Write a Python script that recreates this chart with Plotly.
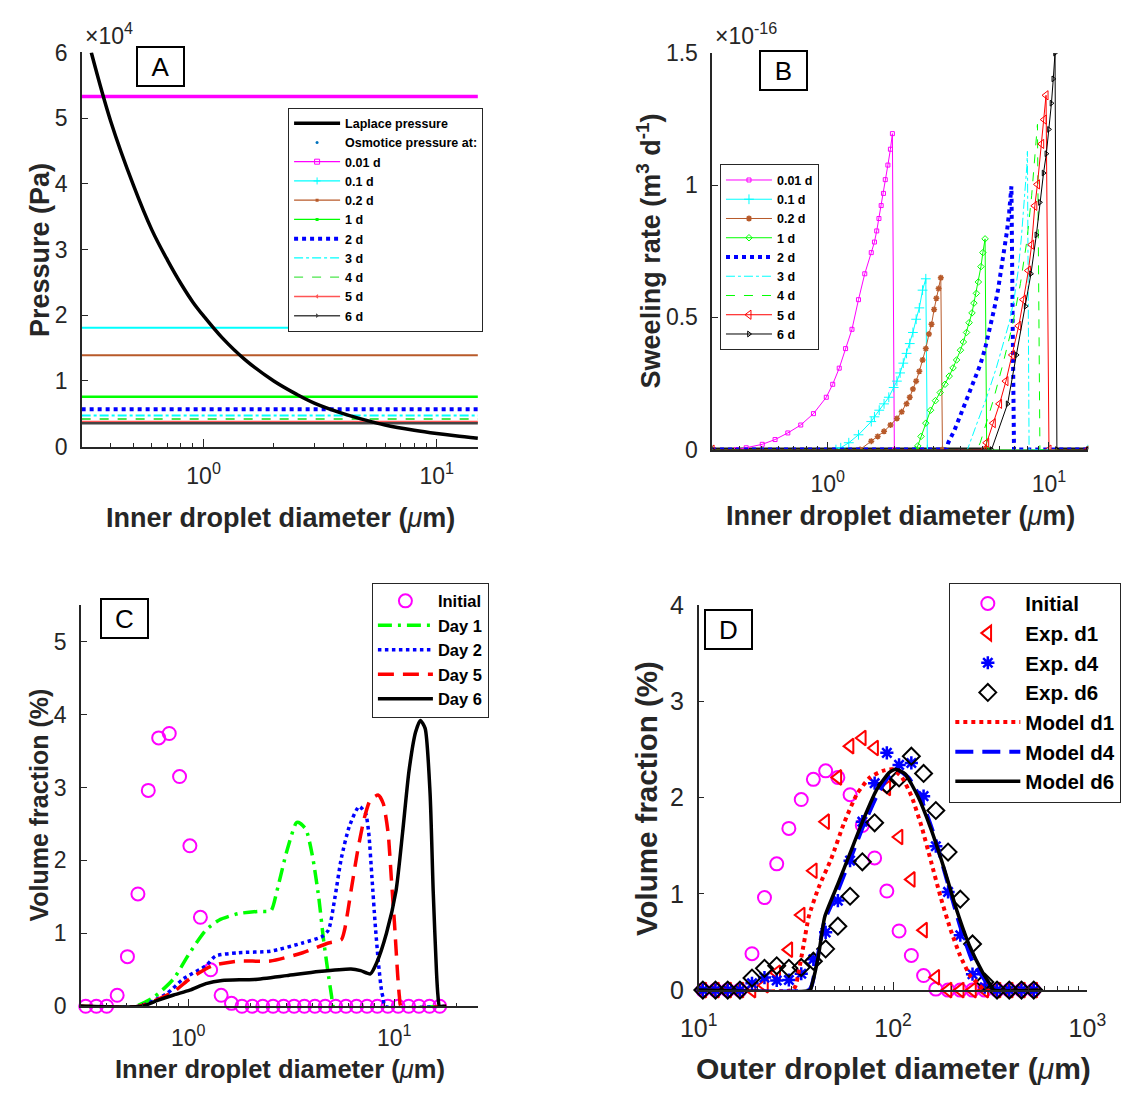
import plotly.graph_objects as go

# ---------------- Panel A data (pressure in units of 1e4 Pa) ----------------
lap_d = [0.33, 0.4, 0.5, 0.6, 0.7, 0.8, 0.9, 1.0, 1.2, 1.5, 2.0, 2.5, 3.0, 4.0, 5.0, 6.0, 8.0, 10.0, 12.0, 15.0]
lap_p = [6.0, 4.95, 3.98, 3.3, 2.84, 2.48, 2.2, 1.99, 1.66, 1.33, 1.0, 0.8, 0.66, 0.5, 0.4, 0.33, 0.25, 0.2, 0.166, 0.13]
osm_days = ['0.01 d', '0.1 d', '0.2 d', '1 d', '2 d', '3 d', '4 d', '5 d', '6 d']
osm_p = [5.33, 1.81, 1.39, 0.76, 0.57, 0.475, 0.42, 0.375, 0.355]
osm_d = [0.3, 15]

# ---------------- Panel B data (swelling rate in units of 1e-16 m3/d) ----------------
b001_x = [0.3, 0.387, 0.428, 0.506, 0.578, 0.66, 0.755, 0.862, 0.985, 1.053, 1.127, 1.204, 1.287, 1.377, 1.47, 1.573, 1.626, 1.665, 1.704, 1.744, 1.786, 1.82, 1.87, 1.92, 1.96, 2.0, 15]
b001_y = [0, 0, 0.007, 0.02, 0.038, 0.063, 0.093, 0.136, 0.198, 0.247, 0.308, 0.382, 0.455, 0.567, 0.665, 0.745, 0.785, 0.827, 0.874, 0.923, 0.969, 1.021, 1.076, 1.136, 1.195, 0, 0]
b01_x = [0.3, 1.089, 1.145, 1.245, 1.377, 1.573, 1.626, 1.709, 1.797, 1.888, 1.986, 2.054, 2.124, 2.195, 2.271, 2.348, 2.427, 2.51, 2.594, 2.683, 2.775, 2.82, 15]
b01_y = [0, 0, 0.007, 0.026, 0.056, 0.106, 0.124, 0.149, 0.173, 0.198, 0.235, 0.259, 0.29, 0.327, 0.364, 0.401, 0.443, 0.493, 0.536, 0.603, 0.646, 0, 0]
b02_x = [0.3, 1.40, 1.573, 1.682, 1.797, 1.921, 2.054, 2.16, 2.271, 2.348, 2.427, 2.51, 2.594, 2.683, 2.775, 2.868, 2.946, 3.025, 3.097, 3.17, 3.244, 3.30, 15]
b02_y = [0, 0, 0.032, 0.05, 0.069, 0.093, 0.118, 0.143, 0.173, 0.198, 0.229, 0.259, 0.296, 0.339, 0.382, 0.437, 0.474, 0.53, 0.572, 0.609, 0.65, 0, 0]
b1_x = [0.3, 2.50, 2.552, 2.64, 2.775, 2.917, 3.067, 3.225, 3.39, 3.54, 3.685, 3.823, 3.98, 4.102, 4.239, 4.355, 4.487, 4.578, 4.699, 4.795, 4.926, 5.026, 5.142, 5.23, 15]
b1_y = [0, 0, 0.014, 0.05, 0.1, 0.149, 0.185, 0.216, 0.247, 0.278, 0.309, 0.339, 0.376, 0.407, 0.443, 0.48, 0.517, 0.554, 0.591, 0.634, 0.692, 0.745, 0.797, 0, 0]
b2_x = [0.3, 3.44, 3.504, 3.747, 4.004, 4.281, 4.578, 4.891, 5.142, 5.408, 5.649, 5.882, 6.079, 6.283, 6.457, 6.607, 6.766, 6.85, 6.95, 15]
b2_y = [0, 0, 0.026, 0.075, 0.136, 0.198, 0.259, 0.321, 0.382, 0.456, 0.53, 0.603, 0.677, 0.751, 0.825, 0.898, 0.996, 0.5, 0, 0]
b3_x = [0.3, 4.28, 4.73, 5.23, 5.78, 6.18, 6.61, 6.95, 7.26, 7.5, 7.73, 7.94, 7.99, 8.13, 15]
b3_y = [0, 0, 0.1, 0.198, 0.309, 0.394, 0.48, 0.567, 0.677, 0.8, 0.935, 1.07, 1.128, 0, 0]
b4_x = [0.3, 4.73, 4.89, 5.595, 6.18, 6.83, 7.43, 7.94, 8.35, 8.63, 8.87, 9.1, 15]
b4_y = [0, 0, 0.026, 0.185, 0.321, 0.468, 0.628, 0.788, 0.96, 1.107, 1.23, 0, 0]
b5_x = [0.3, 5.1, 5.23, 5.6, 5.98, 6.39, 6.83, 7.3, 7.67, 8.07, 8.35, 8.63, 8.87, 9.27, 9.52, 9.70, 10.0, 15]
b5_y = [0, 0, 0.026, 0.1, 0.173, 0.259, 0.358, 0.468, 0.567, 0.677, 0.775, 0.922, 1.003, 1.156, 1.248, 1.34, 0, 0]
b6_x = [0.3, 5.5, 6.5, 7.14, 7.84, 8.29, 8.77, 9.1, 9.45, 9.73, 10.0, 10.26, 10.46, 10.65, 10.86, 15]
b6_y = [0, 0, 0.173, 0.358, 0.542, 0.665, 0.812, 0.935, 1.046, 1.119, 1.211, 1.31, 1.402, 1.50, 0, 0]
# dense marker band along zero where every series is zero
b_base_x = [0.3, 5.5, None, 10.86, 15]
b_base_y = [0, 0, None, 0, 0]

# ---------------- Panel C data ----------------
c_init_x = [0.318, 0.358, 0.402, 0.452, 0.507, 0.570, 0.640, 0.719, 0.809, 0.908, 1.019, 1.146, 1.285, 1.445,
            1.622, 1.824, 2.046, 2.301, 2.582, 2.904, 3.266, 3.664, 4.121, 4.624, 5.200, 5.834, 6.561, 7.379,
            8.279, 9.311, 10.45, 11.75, 13.18, 14.83, 16.63]
c_init_y = [0, 0, 0, 0.15, 0.68, 1.54, 2.96, 3.68, 3.74, 3.15, 2.20, 1.22, 0.50, 0.15, 0.04,
            0, 0, 0, 0, 0, 0, 0, 0, 0, 0, 0, 0, 0, 0, 0, 0, 0, 0, 0, 0]
day1_x = [0.3, 0.552, 0.685, 0.85, 1.018, 1.219, 1.409, 1.749, 2.17, 2.52, 2.695, 3.002, 3.345, 3.44, 3.727, 4.004, 4.303, 4.54, 4.797, 4.97, 5.06, 17.9]
day1_y = [0, 0, 0.13, 0.377, 0.734, 1.045, 1.18, 1.27, 1.30, 1.31, 1.58, 2.115, 2.516, 2.52, 2.427, 2.07, 1.49, 0.91, 0.42, 0.13, 0, 0]
day2_x = [0.3, 0.58, 0.791, 0.947, 1.219, 1.358, 1.749, 2.506, 3.593, 4.462, 4.797, 5.154, 5.537, 6.06, 6.754, 7.255, 7.52, 7.8, 8.08, 8.38, 8.69, 8.85, 9.0, 17.9]
day2_y = [0, 0, 0.177, 0.377, 0.555, 0.689, 0.734, 0.755, 0.868, 0.956, 1.045, 1.49, 2.03, 2.47, 2.74, 2.65, 2.38, 1.76, 1.135, 0.6, 0.2, 0.11, 0, 0]
day5_x = [0.3, 0.58, 0.85, 1.018, 1.31, 1.749, 2.506, 3.593, 4.797, 5.537, 5.74, 6.17, 6.63, 7.13, 7.66, 8.38, 8.85, 9.34, 9.68, 10.03, 10.4, 10.6, 10.8, 17.9]
day5_y = [0, 0, 0.2, 0.377, 0.555, 0.62, 0.62, 0.734, 0.868, 0.912, 1.045, 1.58, 2.115, 2.56, 2.83, 2.895, 2.78, 2.38, 1.76, 1.135, 0.42, 0.13, 0, 0]
day6_x = [0.3, 0.6, 0.71, 0.85, 1.018, 1.219, 1.46, 2.093, 3.002, 4.303, 6.17, 6.87, 7.66, 8.23, 9.17, 10.2, 10.98, 11.8, 12.7, 13.39, 14.13, 14.93, 15.46, 16.04, 16.3, 16.6, 17.9]
day6_y = [0, 0, 0.08, 0.154, 0.22, 0.31, 0.354, 0.368, 0.42, 0.475, 0.51, 0.488, 0.444, 0.6, 1.0, 1.58, 2.38, 3.23, 3.76, 3.92, 3.81, 2.92, 1.58, 0.47, 0.15, 0, 0]

# ---------------- Panel D data ----------------
d_x = [10.5, 12.2, 14.1, 16.3, 18.8, 21.8, 25.2, 29.1, 33.7, 38.9, 45.0, 52.0, 60.1, 69.5, 80.4, 92.9,
       107.4, 124.2, 143.6, 166.0, 191.9, 221.8, 256.4, 296.5, 342.8, 396.3, 458.1, 529.7]
d_init = [0, 0, 0, 0, 0.378, 0.961, 1.312, 1.68, 1.98, 2.19, 2.278, 2.21, 2.03, 1.71, 1.373, 1.029,
          0.614, 0.36, 0.151, 0.01, 0, 0, 0, 0, 0, 0, 0, 0]
d_exp1 = [0, 0, 0, 0, 0.0, 0.05, 0.18, 0.42, 0.78, 1.24, 1.75, 2.21, 2.535, 2.62, 2.515, 2.1,
          1.59, 1.15, 0.623, 0.133, 0, 0, 0, 0, 0, 0, 0, 0]
d_exp4 = [0, 0, 0, 0, 0.07, 0.13, 0.10, 0.105, 0.17, 0.32, 0.6, 0.93, 1.345, 1.75, 2.15, 2.465,
          2.34, 2.36, 2.015, 1.495, 1.02, 0.57, 0.165, 0.03, 0, 0, 0, 0]
d_exp6 = [0, 0, 0, 0, 0.125, 0.226, 0.252, 0.226, 0.236, 0.3, 0.428, 0.664, 0.975, 1.333, 1.738, 2.136,
          2.204, 2.43, 2.251, 1.866, 1.434, 0.945, 0.479, 0.084, 0, 0, 0, 0]
md1_x = [10, 30.5, 31.6, 34.8, 36.8, 41.3, 48.1, 56.0, 65.3, 76.1, 88.5, 99.3, 111.2, 124.8, 140, 157, 176, 198, 222, 249, 279, 295, 575]
md1_y = [0, 0, 0.05, 0.49, 0.76, 1.06, 1.366, 1.738, 2.04, 2.21, 2.278, 2.295, 2.21, 2.008, 1.704, 1.333, 0.96, 0.624, 0.353, 0.151, 0.05, 0, 0]
md4_x = [10, 37, 38.2, 41.3, 44.5, 51.9, 60.4, 70.3, 82, 95.5, 107, 120, 140, 163, 190, 222, 258, 301, 320, 575]
md4_y = [0, 0, 0.05, 0.388, 0.725, 1.03, 1.366, 1.704, 2.008, 2.227, 2.278, 2.21, 1.974, 1.603, 1.13, 0.657, 0.286, 0.084, 0, 0]
md6_x = [10, 37.5, 38.2, 41.3, 44.5, 51.9, 60.4, 70.3, 82, 95.5, 103, 115.6, 134.6, 157, 183, 213, 248, 289, 318, 330, 575]
md6_y = [0, 0, 0.05, 0.353, 0.76, 1.097, 1.434, 1.771, 2.075, 2.26, 2.295, 2.244, 2.008, 1.67, 1.265, 0.826, 0.455, 0.185, 0.05, 0, 0]

# ---------------- tick labels ----------------
a_yticks = [0, 1, 2, 3, 4, 5, 6]
b_yticks = [0, 0.5, 1, 1.5]
b_yticktext = ['0', '0.5', '1', '1.5']
c_yticks = [0, 1, 2, 3, 4, 5]
d_yticks = [0, 1, 2, 3, 4]
ab_xticks = [1, 10]
ab_xtext = ['10<sup>0</sup>', '10<sup>1</sup>']
d_xticks = [10, 100, 1000]
d_xtext = ['10<sup>1</sup>', '10<sup>2</sup>', '10<sup>3</sup>']
minor_ab = [0.4, 0.5, 0.6, 0.7, 0.8, 0.9, 2, 3, 4, 5, 6, 7, 8, 9]
minor_c = [0.4, 0.5, 0.6, 0.7, 0.8, 0.9, 2, 3, 4, 5, 6, 7, 8, 9, 20]
minor_d = [20, 30, 40, 50, 60, 70, 80, 90, 200, 300, 400, 500, 600, 700, 800, 900]

W, H = 1147, 1099
AX = '#262626'
TF = 'Liberation Sans'


def px(x):
    return x / W


def py(y):
    return 1 - y / H


fig = go.Figure()

# ---------------- Panel A traces ----------------
a_styles = [
    dict(color='#FF00FF', width=3.5, dash='solid', lw=1.2, sym='square-open', ms=5),
    dict(color='#00FFFF', width=2, dash='solid', lw=1.2, sym='cross-thin-open', ms=5),
    dict(color='#B85A2A', width=2, dash='solid', lw=1.2, sym='square', ms=3),
    dict(color='#00FF00', width=2.5, dash='solid', lw=1.2, sym='square', ms=3),
    dict(color='#0000FF', width=4, dash='dot', lw=4, sym=None, ms=0),
    dict(color='#00FFFF', width=2, dash='dashdot', lw=1.2, sym=None, ms=0),
    dict(color='#4CE64C', width=2, dash='dash', lw=1.2, sym=None, ms=0),
    dict(color='#FF5555', width=2.5, dash='solid', lw=1.5, sym='triangle-left', ms=4),
    dict(color='#444444', width=2.5, dash='solid', lw=1.5, sym='triangle-right', ms=4),
]
for name, p, s in zip(osm_days, osm_p, a_styles):
    fig.add_trace(go.Scatter(x=osm_d, y=[p, p], mode='lines', showlegend=False, legendgroup='a' + name,
                             line=dict(color=s['color'], width=s['width'], dash=s['dash']),
                             xaxis='x', yaxis='y'))
fig.add_trace(go.Scatter(x=lap_d, y=lap_p, mode='lines', name='Laplace pressure', line=dict(color='black', width=3.5, shape='spline'),
                         xaxis='x', yaxis='y', legend='legend'))
fig.add_trace(go.Scatter(x=[None], y=[None], mode='markers', name='Osmotice pressure at:',
                         marker=dict(color='#0072BD', size=3), xaxis='x', yaxis='y', legend='legend'))
for name, s in zip(osm_days, a_styles):
    mode = 'lines+markers' if s['ms'] > 0 else 'lines'
    mk = dict(symbol=s['sym'], size=s['ms'], color=s['color']) if s['ms'] > 0 else None
    fig.add_trace(go.Scatter(x=[None], y=[None], mode=mode, name=name, legendgroup='a' + name,
                             line=dict(color=s['color'], width=s['lw'], dash=s['dash']),
                             marker=mk, xaxis='x', yaxis='y', legend='legend'))

# ---------------- Panel B traces ----------------
fig.add_trace(go.Scatter(x=b_base_x, y=b_base_y, mode='lines', showlegend=False,
                         line=dict(color='#1A1A1A', width=4), xaxis='x2', yaxis='y2', cliponaxis=False))
b_series = [
    ('0.01 d', b001_x, b001_y, dict(color='#FF00FF', width=1, dash='solid'), dict(symbol='square-open', size=4, color='#FF00FF')),
    ('0.1 d', b01_x, b01_y, dict(color='#00FFFF', width=1, dash='solid'), dict(symbol='cross-thin-open', size=7, color='#00FFFF', line=dict(width=1, color='#00FFFF'))),
    ('0.2 d', b02_x, b02_y, dict(color='#B85A2A', width=1, dash='solid'), dict(symbol='asterisk-open', size=5, color='#B85A2A', line=dict(width=1.5, color='#B85A2A'))),
    ('1 d', b1_x, b1_y, dict(color='#00FF00', width=1, dash='solid'), dict(symbol='diamond-open', size=5, color='#00FF00')),
    ('2 d', b2_x, b2_y, dict(color='#0000FF', width=4, dash='dot'), None),
    ('3 d', b3_x, b3_y, dict(color='#00FFFF', width=1, dash='dashdot'), None),
    ('4 d', b4_x, b4_y, dict(color='#00FF00', width=1, dash='dash'), None),
    ('5 d', b5_x, b5_y, dict(color='#FF0000', width=1, dash='solid'), dict(symbol='triangle-left-open', size=8, color='#FF0000')),
    ('6 d', b6_x, b6_y, dict(color='#000000', width=1, dash='solid'), dict(symbol='triangle-right-open', size=5, color='#000000')),
]
for name, xs, ys, ln, mk in b_series:
    if mk is None:
        fig.add_trace(go.Scatter(x=xs, y=ys, mode='lines', name=name, line=ln, xaxis='x2', yaxis='y2', legend='legend2'))
    else:
        fig.add_trace(go.Scatter(x=xs, y=ys, mode='lines+markers', name=name, line=ln, marker=mk,
                                 xaxis='x2', yaxis='y2', legend='legend2'))

# ---------------- Panel C traces ----------------
fig.add_trace(go.Scatter(x=c_init_x, y=c_init_y, mode='markers', name='Initial',
                         marker=dict(symbol='circle-open', size=13, color='#FF00FF', line=dict(width=2, color='#FF00FF')),
                         xaxis='x3', yaxis='y3', legend='legend3', cliponaxis=False))
fig.add_trace(go.Scatter(x=day1_x, y=day1_y, mode='lines', name='Day 1',
                         line=dict(color='#00FF00', width=3.5, dash='14px,6px,3px,6px', shape='spline', smoothing=0.6),
                         xaxis='x3', yaxis='y3', legend='legend3'))
fig.add_trace(go.Scatter(x=day2_x, y=day2_y, mode='lines', name='Day 2',
                         line=dict(color='#0000FF', width=3.5, dash='dot', shape='spline', smoothing=0.6),
                         xaxis='x3', yaxis='y3', legend='legend3'))
fig.add_trace(go.Scatter(x=day5_x, y=day5_y, mode='lines', name='Day 5',
                         line=dict(color='#FF0000', width=3.5, dash='16px,9px', shape='spline', smoothing=0.6),
                         xaxis='x3', yaxis='y3', legend='legend3'))
fig.add_trace(go.Scatter(x=day6_x, y=day6_y, mode='lines', name='Day 6',
                         line=dict(color='#000000', width=3.5, shape='spline', smoothing=0.6),
                         xaxis='x3', yaxis='y3', legend='legend3'))

# ---------------- Panel D traces ----------------
fig.add_trace(go.Scatter(x=d_x, y=d_init, mode='markers', name='Initial',
                         marker=dict(symbol='circle-open', size=13, color='#FF00FF', line=dict(width=2, color='#FF00FF')),
                         xaxis='x4', yaxis='y4', legend='legend4', cliponaxis=False))
fig.add_trace(go.Scatter(x=d_x, y=d_exp1, mode='markers', name='Exp. d1',
                         marker=dict(symbol='triangle-left-open', size=13, color='#FF0000', line=dict(width=2, color='#FF0000')),
                         xaxis='x4', yaxis='y4', legend='legend4', cliponaxis=False))
fig.add_trace(go.Scatter(x=d_x, y=d_exp4, mode='markers', name='Exp. d4',
                         marker=dict(symbol='asterisk-open', size=11, color='#0000FF', line=dict(width=2.5, color='#0000FF')),
                         xaxis='x4', yaxis='y4', legend='legend4', cliponaxis=False))
fig.add_trace(go.Scatter(x=d_x, y=d_exp6, mode='markers', name='Exp. d6',
                         marker=dict(symbol='diamond-open', size=13, color='#000000', line=dict(width=2, color='#000000')),
                         xaxis='x4', yaxis='y4', legend='legend4', cliponaxis=False))
fig.add_trace(go.Scatter(x=md1_x, y=md1_y, mode='lines', name='Model d1',
                         line=dict(color='#FF0000', width=4, dash='dot', shape='spline', smoothing=0.5),
                         xaxis='x4', yaxis='y4', legend='legend4'))
fig.add_trace(go.Scatter(x=md4_x, y=md4_y, mode='lines', name='Model d4',
                         line=dict(color='#0000FF', width=4, dash='18px,9px', shape='spline', smoothing=0.5),
                         xaxis='x4', yaxis='y4', legend='legend4'))
fig.add_trace(go.Scatter(x=md6_x, y=md6_y, mode='lines', name='Model d6',
                         line=dict(color='#000000', width=3.5, shape='spline', smoothing=0.5),
                         xaxis='x4', yaxis='y4', legend='legend4'))


def xaxis(dom, rng, tv, tt, minor_vals, anchor, fs, so):
    return dict(type='log', domain=dom, range=rng, tickmode='array', tickvals=tv, ticktext=tt,
                ticks='inside', ticklen=8, tickwidth=1.2, tickcolor=AX, showline=True, linecolor=AX, linewidth=1.5,
                showgrid=False, zeroline=False, anchor=anchor, ticklabelstandoff=so,
                tickfont=dict(family=TF, size=fs, color=AX),
                minor=dict(tickmode='array', tickvals=minor_vals, ticks='inside', ticklen=4, tickwidth=1, tickcolor=AX, showgrid=False))


def yaxis(dom, rng, tv, tt, anchor, fs, so):
    return dict(domain=dom, range=rng, tickmode='array', tickvals=tv, ticktext=tt,
                ticks='inside', ticklen=6, tickwidth=1.2, tickcolor=AX, showline=True, linecolor=AX, linewidth=1.5,
                showgrid=False, zeroline=False, anchor=anchor, ticklabelstandoff=so,
                tickfont=dict(family=TF, size=fs, color=AX))


layout = dict(
    width=W, height=H, margin=dict(l=0, r=0, t=0, b=0), paper_bgcolor='white', plot_bgcolor='white',
    showlegend=True,
    xaxis=xaxis([px(65), px(475)], [-0.522, 1.178], ab_xticks, ab_xtext, minor_ab, 'y', 23, 8),
    yaxis=yaxis([py(444), py(39.5)], [0, 6], a_yticks, [str(v) for v in a_yticks], 'x', 23, 8),
    xaxis2=xaxis([px(717), px(1106)], [-0.522, 1.178], ab_xticks, ab_xtext, minor_ab, 'y2', 23, 13),
    yaxis2=yaxis([py(447), py(40)], [0, 1.5], b_yticks, b_yticktext, 'x2', 23, 8),
    xaxis3=xaxis([px(64), px(475)], [-0.521, 1.408], ab_xticks, ab_xtext, minor_c, 'y3', 23, 10),
    yaxis3=yaxis([py(1018.2), py(606.6)], [0, 5.5], c_yticks, [str(v) for v in c_yticks], 'x3', 23, 8),
    xaxis4=xaxis([px(703), px(1105)], [1, 3], d_xticks, d_xtext, minor_d, 'y4', 25, 15),
    yaxis4=yaxis([py(1001.6), py(606.6)], [0, 4], d_yticks, [str(v) for v in d_yticks], 'x4', 25, 8),
)

leg_common = dict(bgcolor='white', bordercolor=AX, borderwidth=1, xanchor='left', yanchor='top', traceorder='normal')
layout['legend'] = dict(x=px(278.3), y=py(96), itemwidth=46, font=dict(family=TF, size=12.5, color='black', weight='bold'), **leg_common)
layout['legend2'] = dict(x=px(725), y=py(154.3), itemwidth=46, font=dict(family=TF, size=12.5, color='black', weight='bold'), **leg_common)
layout['legend3'] = dict(x=px(365), y=py(583.5), itemwidth=55, font=dict(family=TF, size=16.5, color='black', weight='bold'), **leg_common)
layout['legend4'] = dict(x=px(962.2), y=py(583.5), itemwidth=65, font=dict(family=TF, size=20.5, color='black', weight='bold'), **leg_common)

mu = "<span style='font-weight:normal'><i>μ</i></span>"
ann = []
# axis titles
ann.append(dict(text='<b>Inner droplet diameter (</b>' + mu + '<b>m)</b>', x=px(270), y=py(517), font=dict(family=TF, size=27, color=AX)))
ann.append(dict(text='<b>Pressure (Pa)</b>', x=px(22), y=py(242), textangle=-90, font=dict(family=TF, size=27, color=AX)))
ann.append(dict(text='<b>Inner droplet diameter (</b>' + mu + '<b>m)</b>', x=px(911.5), y=py(515), font=dict(family=TF, size=27, color=AX)))
ann.append(dict(text='<b>Sweeling rate (m<sup>3</sup> d<sup>-1</sup>)</b>', x=px(651.7), y=py(243.5), textangle=-90, font=dict(family=TF, size=27, color=AX)))
ann.append(dict(text='<b>Inner droplet diameter (</b>' + mu + '<b>m)</b>', x=px(269.5), y=py(1083), font=dict(family=TF, size=25.5, color=AX)))
ann.append(dict(text='<b>Volume fraction (%)</b>', x=px(21), y=py(812), textangle=-90, font=dict(family=TF, size=25, color=AX)))
ann.append(dict(text='<b>Outer droplet diameter (</b>' + mu + '<b>m)</b>', x=px(904), y=py(1082), font=dict(family=TF, size=30, color=AX)))
ann.append(dict(text='<b>Volume fraction (%)</b>', x=px(649), y=py(805), textangle=-90, font=dict(family=TF, size=29.5, color=AX)))
# exponent labels
ann.append(dict(text='×10<sup>4</sup>', x=px(66), y=py(38), xanchor='left', yanchor='bottom', font=dict(family=TF, size=23, color=AX)))
ann.append(dict(text='×10<sup>-16</sup>', x=px(718), y=py(38), xanchor='left', yanchor='bottom', font=dict(family=TF, size=23, color=AX)))
# panel letters
for letter, cx, cy in [('A', 146.5, 53.5), ('B', 790.9, 57.5), ('C', 108.7, 620.8), ('D', 734.2, 631.8)]:
    ann.append(dict(text=letter, x=px(cx), y=py(cy), width=45, height=37, borderwidth=2, borderpad=0,
                    bordercolor='black', bgcolor='white', font=dict(family=TF, size=26, color='black')))
for a in ann:
    a.setdefault('xref', 'paper')
    a.setdefault('yref', 'paper')
    a.setdefault('showarrow', False)
    a.setdefault('xanchor', 'center')
    a.setdefault('yanchor', 'middle')
layout['annotations'] = ann

fig.update_layout(**layout)
fig.write_html('out.html')
